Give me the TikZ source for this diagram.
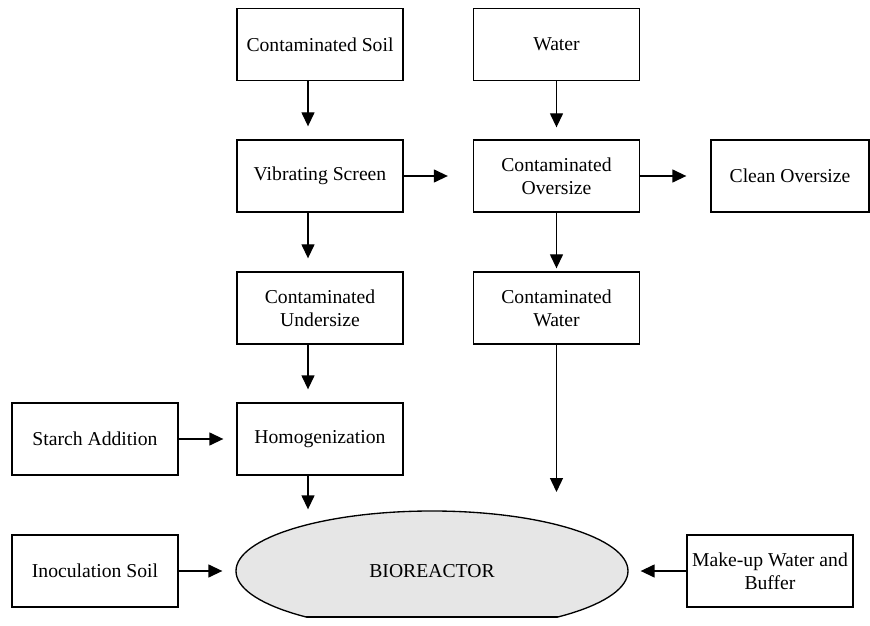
\documentclass[tikz,border=0pt]{standalone}
\usepackage{fontspec}
\setmainfont{Liberation Serif}
\usetikzlibrary{arrows.meta, shapes.geometric}
\definecolor{reactorgray}{HTML}{E6E6E6}

\begin{document}
\begin{tikzpicture}[x=0.6pt, y=-0.6pt,
    >={Triangle[length=8.4pt, width=7.8pt]},
    font=\fontsize{11.8pt}{13.8pt}\selectfont,
    box/.style={draw, line width=0.8pt, minimum width=99.6pt, minimum height=43.2pt, inner sep=1pt, align=center},
    reactor/.style={ellipse, draw, line width=0.8pt, fill=reactorgray, minimum width=235.2pt, minimum height=72pt, inner sep=0pt},
    flow/.style={->, line width=0.8pt}]
  \useasboundingbox (0,0) rectangle (870,626);
  % top row and screening
  \node[box] (soil) at (320,44.5) {Contaminated Soil};
  \node[box] (water) at (556.5,44.5) {Water};
  \node[box] (screen) at (320,176) {Vibrating Screen};
  \node[box] (over) at (556.5,176) {Contaminated\\Oversize};
  \node[box, minimum width=94.8pt] (clean) at (790,176) {Clean Oversize};
  \node[box] (under) at (320,308) {Contaminated\\Undersize};
  \node[box] (cwater) at (556.5,308) {Contaminated\\Water};
  % feed to the reactor
  \node[box] (starch) at (95,439) {Starch Addition};
  \node[box] (homog) at (320,439) {Homogenization};
  \node[box] (inoc) at (95,571) {Inoculation Soil};
  \node[box] (makeup) at (770,571) {Make-up Water and\\Buffer};
  \begin{scope}
    \clip (0,0) rectangle (870,617);
    \node[reactor] (bio) at (432,571) {BIOREACTOR};
  \end{scope}
  \begin{scope}
    \clip (bio.center) ellipse (117.6pt and 36pt);
    \draw[line width=0.8pt] (200,617) -- (670,617);
  \end{scope}
  \coordinate (cwend) at (556.5,492);
  % connectors
  \draw[flow, shorten >=7.8pt] ([xshift=-7.2pt]soil.south) -- ([xshift=-7.2pt]screen.north);
  \draw[flow, shorten >=7.8pt] ([xshift=-7.2pt]screen.south) -- ([xshift=-7.2pt]under.north);
  \draw[flow, shorten >=7.8pt] ([xshift=-7.2pt]under.south) -- ([xshift=-7.2pt]homog.north);
  \draw[flow, shorten >=0.6pt] ([xshift=-7.2pt]homog.south) -- ([xshift=-7.2pt]homog.south |- bio.north);
  \draw[flow, shorten >=7.2pt] (water) -- (over);
  \draw[flow, shorten >=1.8pt] (over) -- (cwater);
  \draw[flow] (cwater.south) -- (cwend);
  \draw[flow, shorten >=15pt] (screen) -- (over);
  \draw[flow, shorten >=14.4pt] (over) -- (clean);
  \draw[flow, shorten >=7.8pt] (starch) -- (homog);
  \draw[flow, shorten >=7.8pt] (inoc) -- (bio);
  \draw[flow, shorten >=7.2pt] (makeup) -- (bio);
\end{tikzpicture}
\end{document}
